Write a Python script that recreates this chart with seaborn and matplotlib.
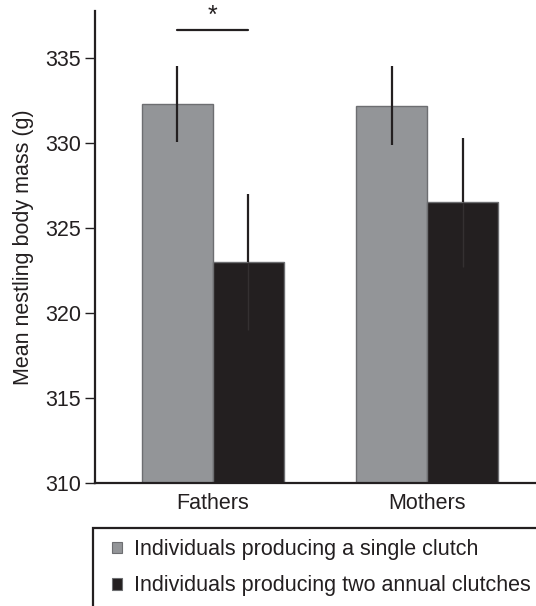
import matplotlib
matplotlib.use("Agg")
import matplotlib.pyplot as plt
import seaborn as sns
import pandas as pd
import numpy as np
from matplotlib.patches import Patch, Rectangle

# ---- data ----
parents = ["Fathers", "Mothers"]
groups = ["Individuals producing a single clutch",
          "Individuals producing two annual clutches"]
single_mean = [332.3, 332.2]
single_err = [2.25, 2.3]
double_mean = [323.0, 326.5]
double_err = [4.0, 3.8]
yticks = [310, 315, 320, 325, 330, 335]

df = pd.DataFrame({
    "parent": parents * 2,
    "group": [groups[0]] * 2 + [groups[1]] * 2,
    "mass": single_mean + double_mean,
    "err": single_err + double_err,
})

sns.set_style("ticks")
plt.rcParams["font.family"] = ["Liberation Sans", "DejaVu Sans"]

FS = 15.5
INK = "#231f20"

fig = plt.figure(figsize=(5.36, 6.06), dpi=100)
ax = fig.add_axes([95 / 536, 123 / 606, 1 - 95 / 536, (483 - 11) / 606])

colors = ["#939598", INK]
sns.barplot(data=df, x="parent", y="mass", hue="group", palette=colors,
            width=0.663, ax=ax, errorbar=None, legend=False,
            edgecolor="#6d6e71", linewidth=1.0, saturation=1)

# error bars from bar positions
for ci, (container, grp) in enumerate(zip(ax.containers, groups)):
    sub = df[df["group"] == grp]
    for bar, (_, row) in zip(container, sub.iterrows()):
        xc = bar.get_x() + bar.get_width() / 2
        ax.plot([xc, xc], [row["mass"], row["mass"] + row["err"]],
                color=INK, lw=1.6, solid_capstyle="butt", zorder=3)
        low_col = INK if ci == 0 else "#343031"
        ax.plot([xc, xc], [row["mass"] - row["err"], row["mass"]],
                color=low_col, lw=1.0 if ci else 1.6,
                solid_capstyle="butt", zorder=3)

ax.set_ylim(310, 310 + (483 - 11) / 17)
ax.set_xlim(-0.551, 1.509)
ax.set_yticks(yticks)
ax.set_yticklabels([str(t) for t in yticks], fontsize=FS, color=INK)
ax.tick_params(axis="y", length=7, width=1.0, color=INK, pad=3)
ax.tick_params(axis="x", length=0, labelsize=FS, labelcolor=INK, pad=7)
ax.set_xlabel("")
ax.set_ylabel("Mean nestling body mass (g)", fontsize=FS, color=INK,
              labelpad=8)
for s in ["top", "right"]:
    ax.spines[s].set_visible(False)
for s in ["left", "bottom"]:
    ax.spines[s].set_linewidth(1.6)
    ax.spines[s].set_color(INK)

# significance bracket
b0 = ax.containers[0][0]
b1 = ax.containers[1][0]
x0 = b0.get_x() + b0.get_width() / 2
x1 = b1.get_x() + b1.get_width() / 2
ax.plot([x0, x1], [336.65, 336.65], color=INK, lw=1.6, clip_on=False)
ax.text((x0 + x1) / 2, 336.8, "*", ha="center", va="bottom", fontsize=18,
        color=INK, clip_on=False)

# legend box (runs off the right and bottom edges like the reference)
fig.patches.append(Rectangle((93 / 536, -0.05), 1.0, (606 - 528) / 606 + 0.05,
                             transform=fig.transFigure, fill=False,
                             edgecolor=INK, lw=1.6))
handles = [Patch(facecolor=colors[0], edgecolor="#6d6e71", lw=0.8),
           Patch(facecolor=colors[1], edgecolor="#6d6e71", lw=0.8)]
leg = fig.legend(handles, groups, loc="upper left",
                 bbox_to_anchor=(112 / 536, 1 - 539 / 606),
                 frameon=False, fontsize=FS,
                 handlelength=0.45, handleheight=0.45, handletextpad=0.55,
                 labelspacing=0.72, borderpad=0.0, borderaxespad=0,
                 labelcolor=INK)

fig.savefig("out.png", dpi=100)
